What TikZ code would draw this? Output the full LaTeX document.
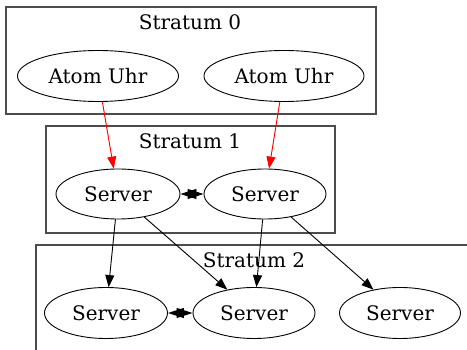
\documentclass[tikz,border=0pt]{standalone}
\usepackage{fontspec}
\setmainfont{DejaVu Serif}
\usetikzlibrary{arrows.meta,shapes.geometric}
\begin{document}
\begin{tikzpicture}[x=1pt,y=-1pt,
  nd/.style={draw,ellipse,line width=0.9pt,inner sep=0pt,font=\fontsize{20}{23}\selectfont},
  cl/.style={draw=black!70,line width=1.1pt},
  lab/.style={font=\fontsize{20}{23}\selectfont},
  ed/.style={line width=0.9pt,-{Triangle[length=12pt,width=9pt]}},
  rd/.style={ed,draw=red,fill=red},
  bi/.style={line width=0.9pt,{Triangle[length=16pt,width=10pt]}-{Triangle[length=16pt,width=10pt]}}]
\useasboundingbox (0,0) rectangle (467,350);
\draw[cl] (6,7) rectangle (376,114);
\node[lab] (s0) at (190,22) {Stratum 0};
\draw[cl] (46,126) rectangle (335,233);
\node[lab] (s1) at (190,141) {Stratum 1};
\draw[cl] (36,350) -- (36,245) -- (470,245);
\node[lab] (s2) at (254,260) {Stratum 2};
\node[nd,minimum width=161pt,minimum height=51pt] (a1) at (98,76) {Atom Uhr};
\node[nd,minimum width=160pt,minimum height=51pt] (a2) at (284,76) {Atom Uhr};
\node[nd,minimum width=124pt,minimum height=50pt] (v1) at (118,194) {Server};
\node[nd,minimum width=122pt,minimum height=50pt] (v2) at (265,194) {Server};
\node[nd,minimum width=123pt,minimum height=51pt] (v3) at (106,313) {Server};
\node[nd,minimum width=122pt,minimum height=51pt] (v4) at (254,313) {Server};
\node[nd,minimum width=121pt,minimum height=51pt] (v5) at (400,313) {Server};
\draw[rd] (a1) -- (v1);
\draw[rd] (a2) -- (v2);
\draw[ed] (v1) -- (v3);
\draw[ed] (v1) -- (v4);
\draw[ed] (v2) -- (v4);
\draw[ed] (v2) -- (v5);
\draw[bi] (v1) -- (v2);
\draw[bi] (v3) -- (v4);
\end{tikzpicture}
\end{document}
